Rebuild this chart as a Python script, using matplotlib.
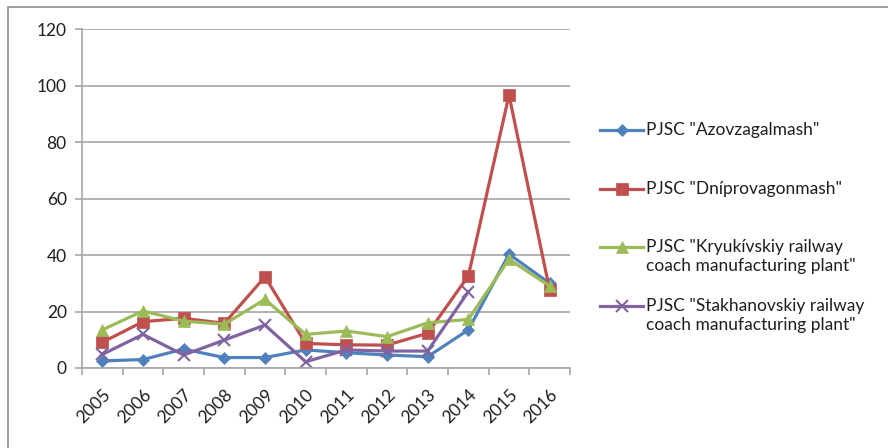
import matplotlib.pyplot as plt
from matplotlib.lines import Line2D
from matplotlib.patches import Rectangle
import numpy as np

years = ["2005", "2006", "2007", "2008", "2009", "2010", "2011", "2012", "2013", "2014", "2015", "2016"]

azovzagalmash = [2.5, 3.0, 6.7, 3.7, 3.7, 6.4, 5.4, 4.6, 4.0, 13.5, 40.3, 30.0]
dniprovagonmash = [9.1, 16.4, 17.6, 15.8, 32.3, 8.7, 8.2, 8.1, 12.3, 32.6, 96.6, 27.6]
kryukivskiy = [13.5, 20.2, 16.6, 15.5, 24.3, 11.9, 13.1, 11.1, 16.0, 17.2, 38.5, 29.0]
stakhanovskiy = [4.8, 11.9, 4.6, 9.9, 15.2, 2.2, 6.4, 6.0, 6.0, 27.0, np.nan, np.nan]

labels = [
    'PJSC "Azovzagalmash"',
    'PJSC "Dníprovagonmash"',
    'PJSC "Kryukívskiy railway\ncoach manufacturing plant"',
    'PJSC "Stakhanovskiy railway\ncoach manufacturing plant"',
]
colors = ["#4F81BD", "#C0504D", "#9BBB59", "#8064A2"]
markers = ["D", "s", "^", "x"]
msizes = [6, 8.5, 8, 8]

plt.rcParams['font.family'] = ['Lato', 'DejaVu Sans']
fs = 12.5
grid_c = "#A6A6A6"
txt_c = "#1E1E1E"

fig = plt.figure(figsize=(8.88, 4.48), dpi=100)
# outer chart border (only top and left visible)
fig.patches.append(Rectangle((8 / 888, -0.1), 1.2, 1 - 7 / 448 + 0.1, transform=fig.transFigure,
                             fill=False, edgecolor="#8C8C8C", linewidth=1.2))

ax = fig.add_axes([82 / 888, 1 - 368 / 448, 488 / 888, 339 / 448])
x = np.arange(len(years))
series = [azovzagalmash, dniprovagonmash, kryukivskiy, stakhanovskiy]
for vals, c, m, ms in zip(series, colors, markers, msizes):
    ax.plot(x, vals, color=c, linewidth=2.3, marker=m, markersize=ms,
            markeredgewidth=1.5 if m == "x" else 0.5, markeredgecolor=c, markerfacecolor=c)

ax.set_xlim(-0.5, len(years) - 0.5)
ax.set_ylim(0, 120)
ax.set_yticks(range(0, 121, 20))
ax.yaxis.grid(True, color=grid_c, linewidth=1.2)
ax.set_axisbelow(True)
for s in ["top", "right"]:
    ax.spines[s].set_visible(False)
for s in ["left", "bottom"]:
    ax.spines[s].set_color(grid_c)
    ax.spines[s].set_linewidth(1.2)

ax.set_xticks(x)
ax.set_xticklabels(years, rotation=45, ha="right", rotation_mode="anchor", fontsize=fs)
ax.set_xticks(np.arange(-0.5, len(years)), minor=True)
ax.tick_params(axis="x", which="major", length=0, pad=13)
ax.tick_params(axis="x", which="minor", length=5, color=grid_c, width=1.2)
ax.tick_params(axis="y", length=5, color=grid_c, width=1.2, labelsize=fs, pad=6)
for t in ax.get_xticklabels() + ax.get_yticklabels():
    t.set_color(txt_c)

# legend drawn to match spreadsheet style (handle aligned to first line)
leg_y = [130, 189, 247, 306]
for lab, c, m, ms, yy in zip(labels, colors, markers, msizes, leg_y):
    fy = 1 - yy / 448
    fig.add_artist(Line2D([600 / 888, 643 / 888], [fy, fy], transform=fig.transFigure,
                          color=c, linewidth=2.3))
    fig.add_artist(Line2D([621.5 / 888], [fy], transform=fig.transFigure, color=c,
                          marker=m, markersize=ms, markeredgecolor=c, markerfacecolor=c,
                          markeredgewidth=1.5 if m == "x" else 0.5))
    fig.text(646 / 888, fy + 8 / 448, lab, fontsize=fs, va="top", ha="left",
             color=txt_c, linespacing=1.25)

fig.savefig("out.png", dpi=100)
